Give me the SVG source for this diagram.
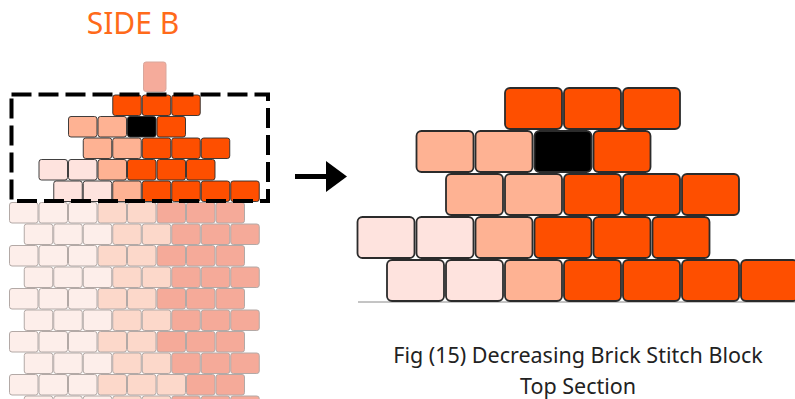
<svg xmlns="http://www.w3.org/2000/svg" xmlns:xlink="http://www.w3.org/1999/xlink" width="795" height="399" viewBox="0 0 795 399">
<style>
.g rect{stroke:#b3a9a6;stroke-width:1}
.vl{fill:#fdeeea}
.lp{fill:#fcd8ca}
.sa{fill:#f5aa99}
.t rect{stroke:#2b2b2b;stroke-width:0.9}
.or{fill:#fe4f00}
.pe{fill:#feb293}
.pk{fill:#fee3de}
.bk{fill:#000}
.cap{font-family:"Noto Sans","Liberation Sans",sans-serif;font-size:21.5px;fill:#222;text-anchor:middle}
</style>
<rect width="795" height="399" fill="#fff"/>
<text x="133" y="34" font-family="'Noto Sans','Liberation Sans',sans-serif" font-size="30" fill="#ff6a1a" text-anchor="middle">SIDE B</text>
<rect x="143.5" y="62" width="22.5" height="29.5" rx="2.5" fill="#f5ab9b" stroke="#d9a79c" stroke-width="1"/>
<g id="lower-grid" class="g">
<g transform="translate(0,202.5)">
<rect class="vl" x="9.5" width="28.5" height="20.5" rx="2.5"/><rect class="vl" x="39" width="28.5" height="20.5" rx="2.5"/><rect class="vl" x="68.5" width="28.5" height="20.5" rx="2.5"/><rect class="lp" x="98" width="28.5" height="20.5" rx="2.5"/><rect class="lp" x="127.5" width="28.5" height="20.5" rx="2.5"/><rect class="sa" x="157" width="28.5" height="20.5" rx="2.5"/><rect class="sa" x="186.5" width="28.5" height="20.5" rx="2.5"/><rect class="sa" x="216" width="28.5" height="20.5" rx="2.5"/>
</g>
<g transform="translate(0,224)">
<rect class="vl" x="24.25" width="28.5" height="20.5" rx="2.5"/><rect class="vl" x="53.75" width="28.5" height="20.5" rx="2.5"/><rect class="vl" x="83.25" width="28.5" height="20.5" rx="2.5"/><rect class="lp" x="112.75" width="28.5" height="20.5" rx="2.5"/><rect class="lp" x="142.25" width="28.5" height="20.5" rx="2.5"/><rect class="sa" x="171.75" width="28.5" height="20.5" rx="2.5"/><rect class="sa" x="201.25" width="28.5" height="20.5" rx="2.5"/><rect class="sa" x="230.75" width="28.5" height="20.5" rx="2.5"/>
</g>
<g transform="translate(0,245.5)">
<rect class="vl" x="9.5" width="28.5" height="20.5" rx="2.5"/><rect class="vl" x="39" width="28.5" height="20.5" rx="2.5"/><rect class="vl" x="68.5" width="28.5" height="20.5" rx="2.5"/><rect class="lp" x="98" width="28.5" height="20.5" rx="2.5"/><rect class="lp" x="127.5" width="28.5" height="20.5" rx="2.5"/><rect class="sa" x="157" width="28.5" height="20.5" rx="2.5"/><rect class="sa" x="186.5" width="28.5" height="20.5" rx="2.5"/><rect class="sa" x="216" width="28.5" height="20.5" rx="2.5"/>
</g>
<g transform="translate(0,267)">
<rect class="vl" x="24.25" width="28.5" height="20.5" rx="2.5"/><rect class="vl" x="53.75" width="28.5" height="20.5" rx="2.5"/><rect class="vl" x="83.25" width="28.5" height="20.5" rx="2.5"/><rect class="lp" x="112.75" width="28.5" height="20.5" rx="2.5"/><rect class="lp" x="142.25" width="28.5" height="20.5" rx="2.5"/><rect class="sa" x="171.75" width="28.5" height="20.5" rx="2.5"/><rect class="sa" x="201.25" width="28.5" height="20.5" rx="2.5"/><rect class="sa" x="230.75" width="28.5" height="20.5" rx="2.5"/>
</g>
<g transform="translate(0,288.5)">
<rect class="vl" x="9.5" width="28.5" height="20.5" rx="2.5"/><rect class="vl" x="39" width="28.5" height="20.5" rx="2.5"/><rect class="vl" x="68.5" width="28.5" height="20.5" rx="2.5"/><rect class="lp" x="98" width="28.5" height="20.5" rx="2.5"/><rect class="lp" x="127.5" width="28.5" height="20.5" rx="2.5"/><rect class="sa" x="157" width="28.5" height="20.5" rx="2.5"/><rect class="sa" x="186.5" width="28.5" height="20.5" rx="2.5"/><rect class="sa" x="216" width="28.5" height="20.5" rx="2.5"/>
</g>
<g transform="translate(0,310)">
<rect class="vl" x="24.25" width="28.5" height="20.5" rx="2.5"/><rect class="vl" x="53.75" width="28.5" height="20.5" rx="2.5"/><rect class="vl" x="83.25" width="28.5" height="20.5" rx="2.5"/><rect class="lp" x="112.75" width="28.5" height="20.5" rx="2.5"/><rect class="lp" x="142.25" width="28.5" height="20.5" rx="2.5"/><rect class="sa" x="171.75" width="28.5" height="20.5" rx="2.5"/><rect class="sa" x="201.25" width="28.5" height="20.5" rx="2.5"/><rect class="sa" x="230.75" width="28.5" height="20.5" rx="2.5"/>
</g>
<g transform="translate(0,331.5)">
<rect class="vl" x="9.5" width="28.5" height="20.5" rx="2.5"/><rect class="vl" x="39" width="28.5" height="20.5" rx="2.5"/><rect class="vl" x="68.5" width="28.5" height="20.5" rx="2.5"/><rect class="lp" x="98" width="28.5" height="20.5" rx="2.5"/><rect class="lp" x="127.5" width="28.5" height="20.5" rx="2.5"/><rect class="sa" x="157" width="28.5" height="20.5" rx="2.5"/><rect class="sa" x="186.5" width="28.5" height="20.5" rx="2.5"/><rect class="sa" x="216" width="28.5" height="20.5" rx="2.5"/>
</g>
<g transform="translate(0,353)">
<rect class="vl" x="24.25" width="28.5" height="20.5" rx="2.5"/><rect class="vl" x="53.75" width="28.5" height="20.5" rx="2.5"/><rect class="vl" x="83.25" width="28.5" height="20.5" rx="2.5"/><rect class="lp" x="112.75" width="28.5" height="20.5" rx="2.5"/><rect class="lp" x="142.25" width="28.5" height="20.5" rx="2.5"/><rect class="sa" x="171.75" width="28.5" height="20.5" rx="2.5"/><rect class="sa" x="201.25" width="28.5" height="20.5" rx="2.5"/><rect class="sa" x="230.75" width="28.5" height="20.5" rx="2.5"/>
</g>
<g transform="translate(0,374.5)">
<rect class="vl" x="9.5" width="28.5" height="20.5" rx="2.5"/><rect class="vl" x="39" width="28.5" height="20.5" rx="2.5"/><rect class="vl" x="68.5" width="28.5" height="20.5" rx="2.5"/><rect class="lp" x="98" width="28.5" height="20.5" rx="2.5"/><rect class="lp" x="127.5" width="28.5" height="20.5" rx="2.5"/><rect class="lp" x="157" width="28.5" height="20.5" rx="2.5"/><rect class="sa" x="186.5" width="28.5" height="20.5" rx="2.5"/><rect class="sa" x="216" width="28.5" height="20.5" rx="2.5"/>
</g>
<g transform="translate(0,396)">
<rect class="vl" x="24.25" width="28.5" height="20.5" rx="2.5"/><rect class="vl" x="53.75" width="28.5" height="20.5" rx="2.5"/><rect class="vl" x="83.25" width="28.5" height="20.5" rx="2.5"/><rect class="lp" x="112.75" width="28.5" height="20.5" rx="2.5"/><rect class="lp" x="142.25" width="28.5" height="20.5" rx="2.5"/><rect class="sa" x="171.75" width="28.5" height="20.5" rx="2.5"/><rect class="sa" x="201.25" width="28.5" height="20.5" rx="2.5"/><rect class="sa" x="230.75" width="28.5" height="20.5" rx="2.5"/>
</g>
</g>
<g id="top-section" class="t">
<rect class="or" x="112.75" y="95" width="28.5" height="20.5" rx="2.5"/><rect class="or" x="142.25" y="95" width="28.5" height="20.5" rx="2.5"/><rect class="or" x="171.75" y="95" width="28.5" height="20.5" rx="2.5"/>
<rect class="pe" x="68.5" y="116.5" width="28.5" height="20.5" rx="2.5"/><rect class="pe" x="98" y="116.5" width="28.5" height="20.5" rx="2.5"/><rect class="bk" x="127.5" y="116.5" width="28.5" height="20.5" rx="2.5"/><rect class="or" x="157" y="116.5" width="28.5" height="20.5" rx="2.5"/>
<rect class="pe" x="83.25" y="138" width="28.5" height="20.5" rx="2.5"/><rect class="pe" x="112.75" y="138" width="28.5" height="20.5" rx="2.5"/><rect class="or" x="142.25" y="138" width="28.5" height="20.5" rx="2.5"/><rect class="or" x="171.75" y="138" width="28.5" height="20.5" rx="2.5"/><rect class="or" x="201.25" y="138" width="28.5" height="20.5" rx="2.5"/>
<rect class="pk" x="39" y="159.5" width="28.5" height="20.5" rx="2.5"/><rect class="pk" x="68.5" y="159.5" width="28.5" height="20.5" rx="2.5"/><rect class="pe" x="98" y="159.5" width="28.5" height="20.5" rx="2.5"/><rect class="or" x="127.5" y="159.5" width="28.5" height="20.5" rx="2.5"/><rect class="or" x="157" y="159.5" width="28.5" height="20.5" rx="2.5"/><rect class="or" x="186.5" y="159.5" width="28.5" height="20.5" rx="2.5"/>
<rect class="pk" x="53.75" y="181" width="28.5" height="20.5" rx="2.5"/><rect class="pk" x="83.25" y="181" width="28.5" height="20.5" rx="2.5"/><rect class="pe" x="112.75" y="181" width="28.5" height="20.5" rx="2.5"/><rect class="or" x="142.25" y="181" width="28.5" height="20.5" rx="2.5"/><rect class="or" x="171.75" y="181" width="28.5" height="20.5" rx="2.5"/><rect class="or" x="201.25" y="181" width="28.5" height="20.5" rx="2.5"/><rect class="or" x="230.75" y="181" width="28.5" height="20.5" rx="2.5"/>
</g>
<rect x="11.5" y="94.5" width="256.5" height="106.5" fill="none" stroke="#000" stroke-width="4" stroke-dasharray="20 7"/>
<g id="arrow">
<line x1="295" y1="176.5" x2="328" y2="176.5" stroke="#000" stroke-width="5"/>
<polygon points="326,161 347,176.5 326,192" fill="#000"/>
</g>
<line x1="358" y1="302" x2="795" y2="302" stroke="#8a8a8a" stroke-width="1"/>
<use id="top-section-enlarged" xlink:href="#top-section" transform="translate(279.5,-102) scale(2)"/>
<text class="cap" x="578" y="363">Fig (15) Decreasing Brick Stitch Block</text>
<text class="cap" x="578" y="394">Top Section</text>
</svg>
